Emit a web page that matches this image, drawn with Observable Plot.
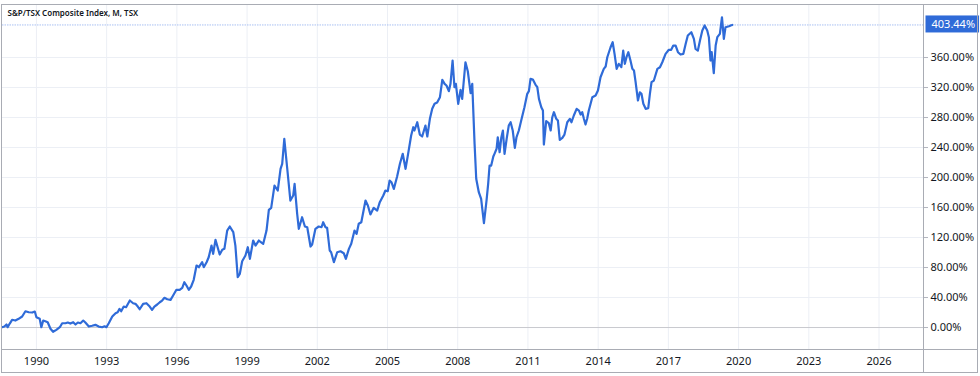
<!DOCTYPE html>
<html>
<head>
<meta charset="utf-8">
<script src="https://cdn.jsdelivr.net/npm/d3@7"></script>
<script src="https://cdn.jsdelivr.net/npm/@observablehq/plot@0.6"></script>
<style>
  html, body { margin: 0; padding: 0; background: #ffffff; }
  #wrap { position: relative; width: 980px; height: 376px; overflow: hidden; }
  #wrap svg { position: absolute; left: 0; top: 0; }
  .ln { position: absolute; background: #a9acb4; pointer-events: none; }
</style>
</head>
<body>
<div id="wrap"></div>
<script>
// ---- data (monthly-ish readings, decimal years / % change) ----
const title = "S&P/TSX Composite Index, M, TSX";
const years = [
  1988.53,1988.63,1988.72,1988.77,1988.86,1988.96,1989.10,1989.24,1989.39,1989.53,1989.67,1989.82,1989.93,
  1990.00,1990.14,1990.21,1990.29,1990.38,1990.48,1990.60,1990.71,1990.85,1991.00,1991.10,1991.24,1991.34,
  1991.45,1991.57,1991.67,1991.77,1991.88,1992.00,1992.09,1992.24,1992.38,1992.52,1992.66,1992.81,1992.91,
  1992.99,1993.09,1993.24,1993.38,1993.47,1993.55,1993.62,1993.73,1993.83,1993.99,1994.13,1994.23,1994.33,
  1994.41,1994.56,1994.70,1994.84,1994.94,1995.04,1995.16,1995.27,1995.37,1995.47,1995.59,1995.73,1995.84,
  1995.98,1996.12,1996.23,1996.32,1996.41,1996.51,1996.61,1996.72,1996.84,1996.94,1997.08,1997.15,1997.27,
  1997.36,1997.48,1997.55,1997.65,1997.72,1997.83,1997.94,1998.03,1998.15,1998.26,1998.41,1998.50,1998.60,
  1998.69,1998.79,1998.93,1999.03,1999.12,1999.26,1999.36,1999.50,1999.69,1999.83,1999.93,2000.03,2000.17,
  2000.31,2000.43,2000.50,2000.59,2000.71,2000.85,2000.97,2001.03,2001.14,2001.21,2001.35,2001.47,2001.57,
  2001.71,2001.78,2001.92,2002.06,2002.18,2002.25,2002.35,2002.42,2002.53,2002.59,2002.71,2002.85,2002.99,
  2003.13,2003.22,2003.35,2003.45,2003.59,2003.68,2003.77,2003.88,2004.06,2004.16,2004.27,2004.41,2004.56,
  2004.67,2004.82,2004.91,2005.01,2005.09,2005.17,2005.27,2005.41,2005.53,2005.65,2005.77,2005.88,2006.01,
  2006.10,2006.15,2006.27,2006.38,2006.48,2006.62,2006.70,2006.81,2006.91,2007.01,2007.12,2007.24,2007.34,
  2007.44,2007.52,2007.62,2007.69,2007.78,2007.86,2007.92,2008.02,2008.12,2008.19,2008.33,2008.43,2008.55,
  2008.62,2008.72,2008.79,2008.90,2009.00,2009.12,2009.23,2009.30,2009.36,2009.43,2009.52,2009.57,2009.66,
  2009.71,2009.79,2009.86,2009.93,2010.00,2010.09,2010.18,2010.26,2010.35,2010.44,2010.51,2010.61,2010.73,
  2010.85,2010.97,2011.04,2011.11,2011.21,2011.32,2011.40,2011.47,2011.57,2011.64,2011.68,2011.78,2011.89,
  2011.97,2012.04,2012.11,2012.21,2012.28,2012.36,2012.47,2012.56,2012.68,2012.79,2012.86,2012.96,2013.08,
  2013.18,2013.25,2013.32,2013.39,2013.46,2013.53,2013.60,2013.75,2013.89,2013.99,2014.10,2014.24,2014.32,
  2014.39,2014.53,2014.62,2014.70,2014.79,2014.88,2014.99,2015.07,2015.14,2015.21,2015.29,2015.38,2015.46,
  2015.53,2015.60,2015.70,2015.78,2015.85,2015.93,2016.03,2016.14,2016.21,2016.28,2016.38,2016.53,2016.64,
  2016.74,2016.88,2017.02,2017.12,2017.21,2017.31,2017.41,2017.52,2017.64,2017.74,2017.83,2017.98,2018.09,
  2018.16,2018.26,2018.35,2018.45,2018.55,2018.66,2018.73,2018.80,2018.85,2018.94,2019.02,2019.09,2019.20,
  2019.29,2019.37,2019.44,2019.59,2019.66,2019.73
];
const values = [
  0.4,1.3,4.0,0.4,5.3,10.3,9.3,11.6,14.7,21.7,20.4,20.0,21.3,
  13.7,11.6,0.4,9.3,8.4,7.1,-1.7,-5.7,-3.1,0.4,5.7,5.7,6.7,
  5.3,7.1,4.0,6.7,5.7,9.3,6.7,1.3,2.3,3.6,1.3,0.4,1.7,
  0.4,5.7,14.7,19.1,20.4,24.9,21.7,28.0,27.1,36.0,32.4,31.6,28.0,
  24.4,31.6,32.4,28.0,23.6,28.0,30.7,33.7,36.0,39.6,37.7,36.9,42.7,
  50.3,50.3,52.9,60.4,56.0,50.3,54.7,63.6,82.7,80.4,87.1,80.4,87.1,
  93.7,109.3,98.3,116.9,109.3,97.3,103.6,104.9,129.3,134.7,127.1,109.3,67.1,
  71.6,88.4,96.0,107.1,91.6,116.0,109.3,116.0,111.6,129.3,156.9,159.6,189.3,
  182.7,211.6,218.3,251.6,213.7,169.3,176.0,191.6,151.6,131.6,147.1,134.7,133.7,
  108.0,110.7,131.6,134.7,133.7,140.4,133.7,132.9,102.7,100.4,87.1,100.4,101.7,
  99.1,91.6,104.9,111.6,129.3,124.9,138.3,140.4,169.3,162.7,150.7,159.6,156.0,
  167.1,176.0,182.7,181.7,196.0,193.7,184.9,201.3,218.3,231.6,211.6,231.6,256.0,
  267.1,262.7,273.7,257.3,254.7,269.3,254.7,278.3,291.6,298.3,300.0,307.1,330.3,
  324.9,322.7,315.1,324.9,356.0,320.4,324.9,298.3,316.9,304.9,353.7,341.7,312.4,
  324.9,244.9,198.3,180.4,171.6,139.1,169.3,191.6,216.0,216.0,228.0,231.6,238.3,
  253.7,233.7,252.9,262.7,231.6,251.6,269.3,273.7,262.7,239.6,253.7,262.7,278.3,
  293.7,311.6,315.1,331.6,330.7,324.0,320.4,304.9,293.7,289.3,244.0,275.1,272.4,
  262.7,280.4,287.1,278.3,276.0,250.3,252.9,257.3,273.7,278.3,273.7,282.7,291.6,
  289.3,284.0,287.1,278.3,270.7,278.3,289.3,307.1,309.3,316.0,333.7,344.9,348.0,
  360.4,373.7,380.4,364.9,344.9,351.6,347.1,369.3,351.6,360.4,367.1,356.0,344.9,
  342.7,327.1,302.7,313.7,311.6,298.3,291.6,292.4,311.6,327.1,329.3,344.9,347.1,
  353.7,364.9,370.3,370.3,376.0,376.0,367.1,364.0,364.9,378.3,389.3,393.7,384.9,
  371.6,369.3,382.7,396.0,402.7,396.0,387.1,356.0,367.1,339.1,376.0,387.1,391.6,
  413.7,384.9,400.4,401.7,402.7,403.44
];
const lastValue = 403.44;
const xTicks = [1990, 1993, 1996, 1999, 2002, 2005, 2008, 2011, 2014, 2017, 2020, 2023, 2026];
const yTicks = [0, 40, 80, 120, 160, 200, 240, 280, 320, 360];

const data = years.map((y, i) => ({year: y, pct: values[i]}));
const pctFmt = d => d.toFixed(2) + "%";

const chart = Plot.plot({
  width: 980,
  height: 376,
  marginLeft: 2,
  marginRight: 57,
  marginTop: 4,
  marginBottom: 27,
  style: {fontFamily: "'Noto Sans', 'DejaVu Sans', sans-serif", fontSize: "11px", color: "#131722", background: "#ffffff", overflow: "visible"},
  x: {type: "linear", domain: [1988.55, 2027.9], label: null},
  y: {type: "linear", domain: [-29.3, 430.7], label: null},
  marks: [
    Plot.gridX(xTicks, {stroke: "#eceff5", strokeOpacity: 1}),
    Plot.gridY(yTicks.slice(1), {stroke: "#eceff5", strokeOpacity: 1}),
    Plot.ruleY([0], {stroke: "#c9cacf", strokeWidth: 1}),
    Plot.ruleY([lastValue], {stroke: "#a9c0f2", strokeWidth: 1, strokeDasharray: "1.5,1"}),
    Plot.line(data, {x: "year", y: "pct", stroke: "#2f6bd8", strokeWidth: 2.2, strokeLinejoin: "round"}),
    Plot.axisX(xTicks, {anchor: "bottom", label: null, tickSize: 0, tickPadding: 8, tickFormat: d => String(d), fill: "#131722", fontSize: 11}),
    Plot.axisY(yTicks, {anchor: "right", label: null, tickSize: 4, tickPadding: 3, stroke: "#b2b5be", tickFormat: pctFmt, fill: "#131722", fontSize: 11}),
    Plot.text([lastValue], {y: d => d, frameAnchor: "right", dx: 8, textAnchor: "start", text: pctFmt, fill: "#ffffff", fontSize: 11, className: "lastlabel"}),
    Plot.text([title], {frameAnchor: "top-left", dx: 5, dy: 6, textAnchor: "start", lineAnchor: "top", fontSize: 8, fontWeight: 600, fill: "#131722"})
  ]
});

const wrap = document.getElementById("wrap");
wrap.appendChild(chart);

// blue badge behind the last value label
const t = chart.querySelector(".lastlabel text");
if (t) {
  const bb = t.getBBox();
  const svgNS = "http://www.w3.org/2000/svg";
  const r = document.createElementNS(svgNS, "rect");
  r.setAttribute("x", bb.x - 6);
  r.setAttribute("y", bb.y - 1);
  r.setAttribute("width", bb.width + 10);
  r.setAttribute("height", bb.height + 2);
  r.setAttribute("fill", "#2f6bd8");
  const tr = t.getAttribute("transform");
  if (tr) r.setAttribute("transform", tr);
  t.parentNode.insertBefore(r, t);
}

// chart frame lines (outer border and panel separators)
function addLine(l, tp, w, h) {
  const d = document.createElement("div");
  d.className = "ln";
  d.style.left = l + "px"; d.style.top = tp + "px";
  d.style.width = w + "px"; d.style.height = h + "px";
  wrap.appendChild(d);
}
addLine(1, 4, 977, 1);     // top
addLine(1, 372, 977, 1);   // bottom
addLine(1, 4, 1, 369);     // left
addLine(977, 4, 1, 369);   // right
addLine(1, 349, 977, 1);   // x-axis separator
addLine(923, 4, 1, 369);   // price-axis separator
</script>
</body>
</html>
